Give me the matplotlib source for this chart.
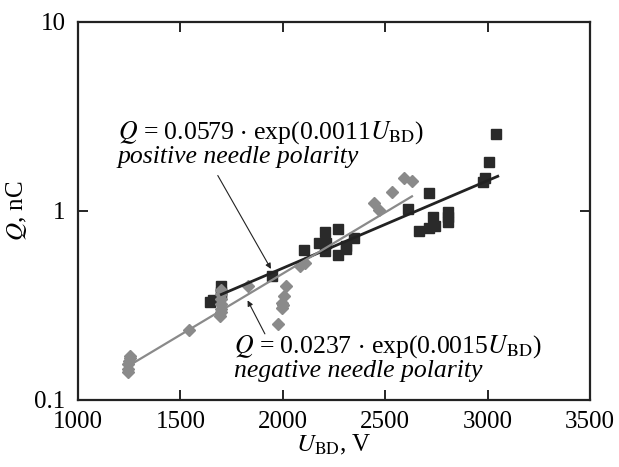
"""Breakdown charge Q vs breakdown voltage U_BD for both needle polarities."""

import matplotlib
matplotlib.use("Agg")
import matplotlib.pyplot as plt

plt.rcParams["font.family"] = "Liberation Serif"
plt.rcParams["mathtext.fontset"] = "stix"

# positive needle polarity (black squares)
pos_u = [1643, 1660, 1700, 1700, 1700, 1949, 2103, 2179, 2204, 2204, 2210,
         2268, 2269, 2309, 2309, 2350, 2610, 2663, 2715, 2715, 2735, 2745,
         2805, 2805, 2805, 2980, 2988, 3008, 3043]
pos_q = [0.33, 0.335, 0.40, 0.37, 0.36, 0.45, 0.62, 0.675, 0.77, 0.61, 0.675,
         0.585, 0.80, 0.647, 0.63, 0.72, 1.02, 0.78, 1.24, 0.81, 0.93, 0.83,
         0.98, 0.92, 0.87, 1.41, 1.49, 1.80, 2.55]

# negative needle polarity (grey diamonds)
neg_u = [1242, 1242, 1245, 1248, 1255, 1255, 1543, 1692, 1700, 1700, 1700,
         1700, 1700, 1700, 1830, 1976, 1995, 1995, 2000, 2008, 2017, 2085,
         2107, 2447, 2472, 2534, 2594, 2631]
neg_q = [0.14, 0.145, 0.155, 0.16, 0.165, 0.17, 0.232, 0.276, 0.29, 0.30,
         0.32, 0.34, 0.36, 0.38, 0.40, 0.25, 0.305, 0.325, 0.315, 0.355, 0.40,
         0.51, 0.53, 1.10, 1.01, 1.26, 1.48, 1.44]

# fitted exponentials, end points
pos_fit_u = [1700, 3050]
pos_fit_q = [0.36, 1.52]
neg_fit_u = [1270, 2631]
neg_fit_q = [0.156, 1.19]

BLACK = "#2a2a2a"
GREY = "#8a8a8a"
ANN_SIZE = 18.5

fig = plt.figure(figsize=(6.19, 4.67), dpi=100)
ax = fig.add_axes([0.126, 0.1445, 0.827, 0.809])

ax.plot(pos_u, pos_q, linestyle="none", marker="s", ms=6.6,
        color=BLACK, mec=BLACK, zorder=2)
ax.plot(neg_u, neg_q, linestyle="none", marker="D", ms=5.8,
        color=GREY, mec=GREY, zorder=3)
ax.plot(pos_fit_u, pos_fit_q, color="#222222", lw=2.0, zorder=4)
ax.plot(neg_fit_u, neg_fit_q, color=GREY, lw=1.6, zorder=4)

ax.set_yscale("log")
ax.set_xlim(1000, 3500)
ax.set_ylim(0.1, 10)
ax.set_xticks([1000, 1500, 2000, 2500, 3000, 3500])
ax.set_yticks([0.1, 1, 10])
ax.set_yticklabels(["0.1", "1", "10"])
ax.yaxis.set_minor_locator(matplotlib.ticker.NullLocator())
ax.tick_params(direction="in", length=7, width=1.2, labelsize=18,
               top=True, right=True)
ax.tick_params(axis="x", pad=8)
ax.tick_params(axis="y", pad=9)
for spine in ax.spines.values():
    spine.set_linewidth(1.6)
    spine.set_color("#222222")

ax.set_xlabel(r"$U_{\mathrm{BD}}$, V", fontsize=18, labelpad=0)
ax.set_ylabel(r"$Q$, nC", fontsize=18, labelpad=4)

ax.text(1195, 2.59, r"$Q$ = 0.0579 $\cdot$ exp(0.0011$U_{\mathrm{BD}}$)",
        fontsize=ANN_SIZE, ha="left", va="center")
ax.text(1195, 1.93, "positive needle polarity", fontsize=ANN_SIZE,
        style="italic", ha="left", va="center")
ax.annotate("", xy=(1949, 0.477), xytext=(1676, 1.58),
            arrowprops=dict(arrowstyle="-|>", color="#222222", lw=0.8,
                            mutation_scale=8))

ax.text(1760, 0.19, r"$Q$ = 0.0237 $\cdot$ exp(0.0015$U_{\mathrm{BD}}$)",
        fontsize=ANN_SIZE, ha="left", va="center")
ax.text(1760, 0.141, "negative needle polarity", fontsize=ANN_SIZE,
        style="italic", ha="left", va="center")
ax.annotate("", xy=(1822, 0.345), xytext=(1919, 0.216),
            arrowprops=dict(arrowstyle="-|>", color="#222222", lw=0.8,
                            mutation_scale=8))

fig.savefig("out.png", dpi=100)
